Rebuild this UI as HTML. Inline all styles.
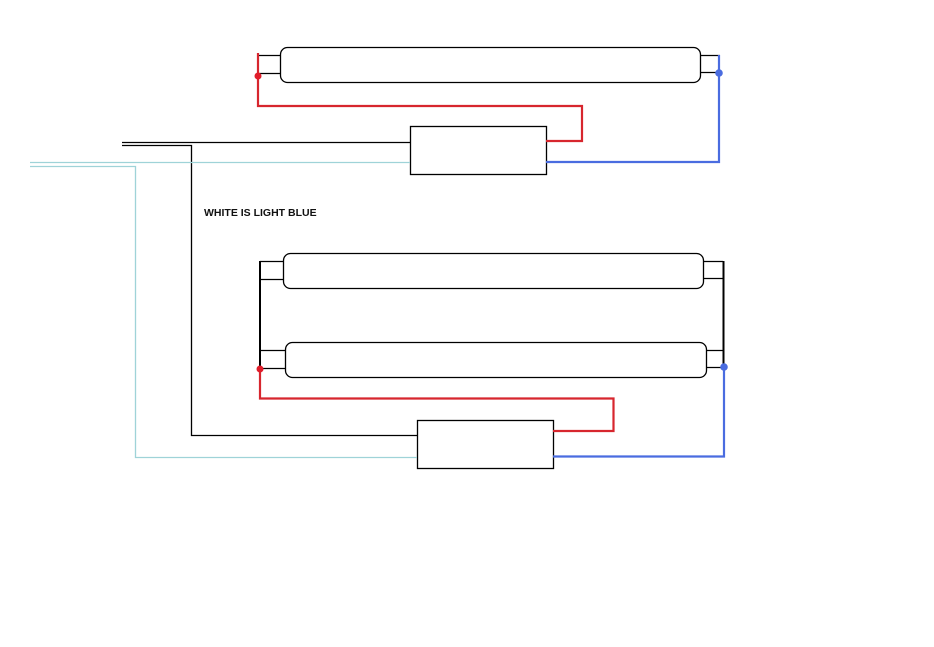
<!DOCTYPE html>
<html><head><style>body{margin:0;background:#fff}svg{display:block}</style></head><body>
<svg width="934" height="647" xmlns="http://www.w3.org/2000/svg">
<rect width="934" height="647" fill="#fff"/>
<g fill="none" stroke="#000" stroke-width="1.3">
<rect x="280.5" y="47.5" width="420" height="35" rx="7"/>
<line x1="258" y1="55.5" x2="280" y2="55.5"/><line x1="258" y1="73.5" x2="280" y2="73.5"/>
<line x1="700" y1="55.5" x2="720" y2="55.5"/><line x1="700" y1="72.5" x2="720" y2="72.5"/>
<rect x="410.5" y="126.5" width="136" height="48"/>
<polyline points="122,142.5 410,142.5"/>
<polyline points="122,145.5 191.5,145.5 191.5,435.5 417,435.5"/>
<rect x="283.5" y="253.5" width="420" height="35" rx="7"/>
<rect x="285.5" y="342.5" width="421" height="35" rx="7"/>
<line x1="260" y1="261.5" x2="283" y2="261.5"/><line x1="260" y1="279.5" x2="283" y2="279.5"/>
<line x1="703" y1="261.5" x2="723" y2="261.5"/><line x1="703" y1="278.5" x2="723" y2="278.5"/>
<line x1="260" y1="350.5" x2="285" y2="350.5"/><line x1="260" y1="368.5" x2="285" y2="368.5"/>
<line x1="707" y1="350.5" x2="724" y2="350.5"/><line x1="707" y1="367.5" x2="724" y2="367.5"/>
<rect x="417.5" y="420.5" width="136" height="48"/>
</g>
<g stroke="#000" stroke-width="2"><line x1="260" y1="261" x2="260" y2="368"/><line x1="723.5" y1="261" x2="723.5" y2="367"/></g>
<g fill="none" stroke="#9fd3d8" stroke-width="1.3">
<line x1="30" y1="162.5" x2="410" y2="162.5"/>
<polyline points="30,166.5 135.5,166.5 135.5,457.5 417,457.5"/>
</g>
<g fill="none" stroke="#d7262e" stroke-width="2.2">
<polyline points="258,53 258,106 582,106 582,141 546,141"/>
<polyline points="260,368 260,398.5 613.5,398.5 613.5,431 553,431"/>
</g>
<g fill="none" stroke="#4a6ce0" stroke-width="2.2">
<polyline points="719,55 719,162 546,162"/>
<polyline points="724,367 724,456.5 553,456.5"/>
</g>
<circle cx="258" cy="76" r="3.5" fill="#e11d2a"/><circle cx="260" cy="369" r="3.5" fill="#e11d2a"/>
<circle cx="719" cy="73" r="3.8" fill="#4a6ce0"/><circle cx="724" cy="367" r="3.8" fill="#4a6ce0"/>
<text x="204" y="216" font-family="Liberation Sans, sans-serif" font-size="10.5" font-weight="bold" fill="#111">WHITE IS LIGHT BLUE</text>
</svg>
</body></html>
